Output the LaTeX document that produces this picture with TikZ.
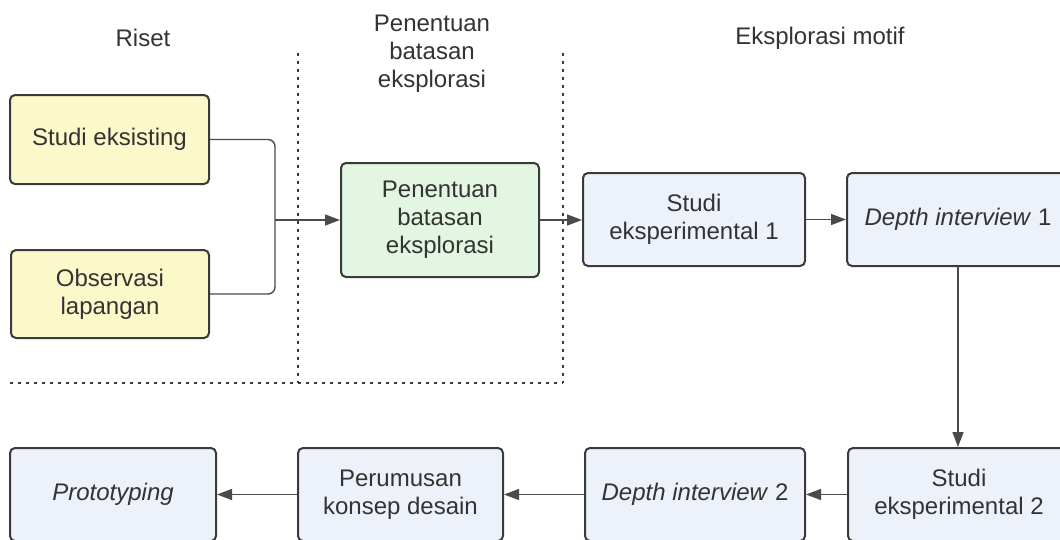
\documentclass[tikz,border=0pt]{standalone}
\usepackage{fontspec}
\setmainfont{Liberation Sans}
\usetikzlibrary{arrows.meta}
\definecolor{txt}{HTML}{333333}
\definecolor{edge}{HTML}{3A3A3A}
\definecolor{yel}{HTML}{FBF8C9}
\definecolor{grn}{HTML}{E2F6E2}
\definecolor{blu}{HTML}{EDF2FA}
\definecolor{conncol}{HTML}{4A4A4A}
\tikzset{
  box/.style={draw=edge, line width=2pt, rounded corners=5pt, align=center,
    text=txt, inner sep=0pt, font=\fontsize{24}{28}\selectfont},
  ybox/.style={box, fill=yel},
  gbox/.style={box, fill=grn},
  bbox/.style={box, fill=blu},
  head/.style={text=txt, align=center, font=\fontsize{24}{28}\selectfont, inner sep=0pt},
  conn/.style={draw=conncol, line width=1.4pt},
  arr/.style={conn, -{Triangle[length=15pt, width=11pt]}},
  sep/.style={draw=edge, line width=2.4pt, dash pattern=on 3pt off 5pt}
}
\begin{document}
\begin{tikzpicture}[x=1pt, y=-1pt]
\useasboundingbox (0,0) rectangle (1060,539);
\fill[white] (0,0) rectangle (1060,539);
\clip (0,0) rectangle (1060,539);

% separators
\draw[sep] (298,53) -- (298,383);
\draw[sep] (563,53) -- (563,383);
\draw[sep] (10,383) -- (563,383);

% headers
\node[head] (h1) at (143,38) {Riset};
\node[head] (h2) at (432,54) {Penentuan\\batasan\\eksplorasi};
\node[head] (h3) at (820,38) {Eksplorasi motif};

% boxes
\node[ybox, minimum width=199pt, minimum height=89pt] (se) at (109.5,139.5) {Studi eksisting};
\node[ybox, minimum width=198pt, minimum height=88pt] (ol) at (110,294) {Observasi\\lapangan};
\node[gbox, minimum width=198pt, minimum height=114pt] (pb) at (440,220) {Penentuan\\batasan\\eksplorasi};
\node[bbox, minimum width=222pt, minimum height=93pt] (s1) at (694,219.5) {Studi\\eksperimental 1};
\node[bbox, minimum width=222pt, minimum height=93pt] (d1) at (958,219.5) {\textit{Depth interview} 1};
\node[bbox, minimum width=222pt, minimum height=93pt] (s2) at (959,494.5) {Studi\\eksperimental 2};
\node[bbox, minimum width=220pt, minimum height=93pt] (d2) at (695,494.5) {\textit{Depth interview} 2};
\node[bbox, minimum width=205pt, minimum height=93pt] (pk) at (400.5,494.5) {Perumusan\\konsep desain};
\node[bbox, minimum width=206pt, minimum height=93pt] (pr) at (113,494.5) {\textit{Prototyping}};

% connectors
\coordinate (j) at (275,220);
\draw[conn, rounded corners=7pt] (se.east) -| (j);
\draw[conn, rounded corners=7pt] (ol.east) -| (j);
\draw[arr] (j) -- (pb.west);
\draw[arr] (pb.east) -- (pb.east -| s1.west);
\draw[arr] (s1.east) -- (s1.east -| d1.west);
\draw[arr] (d1.south) -- (d1.south |- s2.north);
\draw[arr] (s2.west) -- (s2.west -| d2.east);
\draw[arr] (d2.west) -- (d2.west -| pk.east);
\draw[arr] (pk.west) -- (pk.west -| pr.east);
\end{tikzpicture}
\end{document}
